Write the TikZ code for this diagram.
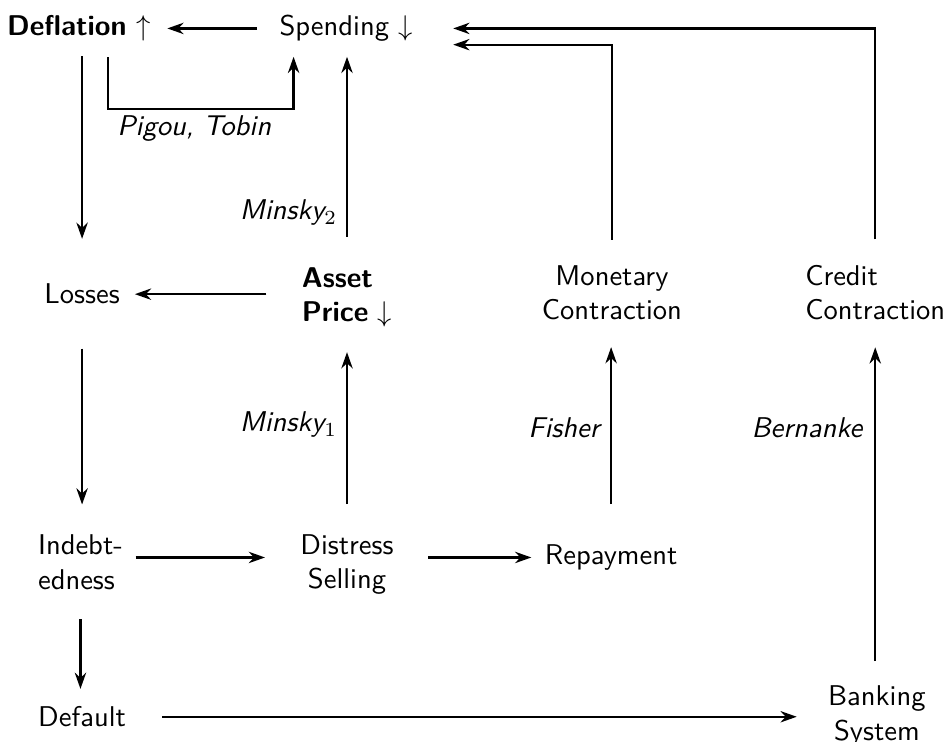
\documentclass[tikz,border=0pt]{standalone}
\usepackage{amsmath,amssymb}
\usetikzlibrary{arrows.meta,calc,positioning}
\renewcommand{\familydefault}{\sfdefault}
\tikzstyle{term} = [inner sep=0pt, align=center]
\tikzstyle{who} = [inner sep=0pt, font=\itshape]
\tikzstyle{flow} = [thick,-{Stealth[length=2mm,width=1.4mm]}]

\begin{document}
\begin{tikzpicture}
\useasboundingbox (0,0) rectangle (11.69,9.13);
\node[term] (defl) at (0.97,8.78) {\textbf{Deflation} $\uparrow$};
\node[term] (spend) at (4.26,8.78) {Spending $\downarrow$};
\node[term] (loss) at (1.01,5.51) {Losses};
\node[term, align=left] (asset) at (4.27,5.47) {\textbf{Asset}\\\textbf{Price} $\downarrow$};
\node[term] (monet) at (7.53,5.53) {Monetary\\Contraction};
\node[term, align=left] (credit) at (10.77,5.53) {Credit\\Contraction};
\node[term, align=left] (indebt) at (0.99,2.21) {Indebt-\\edness};
\node[term] (dist) at (4.27,2.18) {Distress\\Selling};
\node[term] (repay) at (7.52,2.27) {Repayment};
\node[term] (default) at (1.01,0.31) {Default};
\node[term] (bank) at (10.79,0.32) {Banking\\System};
% who said so
\node[who] (pigou) at (2.39,7.55) {Pigou, Tobin};
\node[who] (mins2) at (3.55,6.51) {Minsky$_2$};
\node[who] (mins1) at (3.55,3.90) {Minsky$_1$};
\node[who] (fish) at (6.94,3.87) {Fisher};
\node[who] (bern) at (9.93,3.87) {Bernanke};
% top row
\draw[flow, shorten <=2.7mm, shorten >=2mm] (spend) -- (defl);
\draw[flow] ([xshift=3.6mm,yshift=-1.9mm]defl.south) -- ++(0,-6.4mm) -| ([xshift=1.8mm,yshift=-1.8mm]spend.south west);
\draw[flow, shorten <=3.7mm, shorten >=1.8mm] (asset.north) -- (asset.north |- spend.south);
\draw[flow, shorten <=3.1mm, shorten >=4.9mm] (monet.north) |- ([yshift=-2mm]spend.east);
\draw[flow, shorten <=3.1mm, shorten >=4.9mm] (credit.north) |- (spend.east);
% left column
\draw[flow, shorten <=1.8mm, shorten >=5.5mm] (defl.south -| loss.north) -- (loss.north);
\draw[flow, shorten <=4.3mm, shorten >=1.8mm] (asset.west |- loss) -- (loss.east);
\draw[flow, shorten <=5.4mm, shorten >=3.7mm] (loss.south) -- (loss.south |- indebt.north);
\draw[flow, shorten <=3.6mm, shorten >=2.1mm] (indebt.south) -- (indebt.south |- default.north);
% upwards
\draw[flow, shorten <=3.7mm, shorten >=3mm] (dist.north) -- (asset.south);
\draw[flow, shorten <=4.9mm, shorten >=3.3mm] (repay.north) -- (repay.north |- monet.south);
\draw[flow, shorten <=3mm, shorten >=3.3mm] (bank.north -| credit) -- (credit.south);
% bottom rows
\draw[flow, shorten <=1.5mm, shorten >=4.3mm] (indebt.east |- repay) -- (dist.west |- repay);
\draw[flow, shorten <=4.2mm, shorten >=1.6mm] (dist.east |- repay) -- (repay.west);
\draw[flow, shorten <=4.4mm, shorten >=3.8mm] (default) -- (default -| bank.west);
\end{tikzpicture}
\end{document}
